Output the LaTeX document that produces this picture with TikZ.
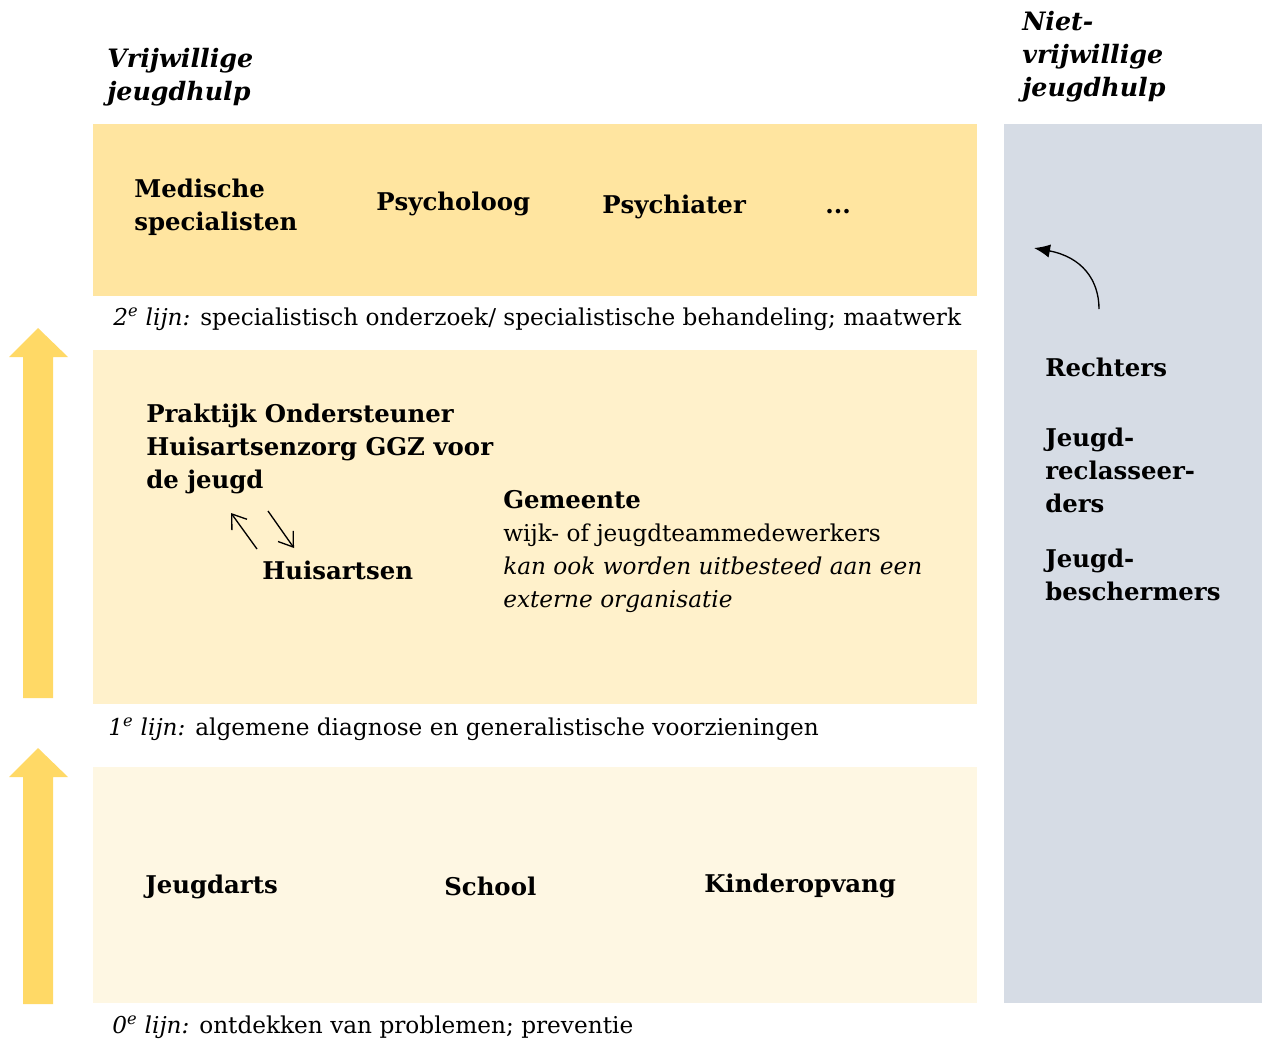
\documentclass[tikz,border=0pt]{standalone}
\usepackage{fontspec}
\setmainfont{DejaVu Serif}
\usetikzlibrary{arrows.meta}

\definecolor{lijntwee}{HTML}{FFE5A0}
\definecolor{lijneen}{HTML}{FFF1CB}
\definecolor{lijnnul}{HTML}{FEF7E3}
\definecolor{grijsblauw}{HTML}{D6DCE5}
\definecolor{pijlgeel}{HTML}{FFD966}

\newcommand\basis{\fontsize{17.4}{24.75}\selectfont}
\newcommand\vetletter{\fontsize{18.3}{24.75}\selectfont\bfseries}

\begin{document}
\begin{tikzpicture}[x=0.75pt, y=-0.75pt,
    tekst/.style={anchor=base west, inner sep=0pt, align=left, font=\basis},
    vet/.style={tekst, font=\vetletter},
    kop/.style={tekst, font=\fontsize{19}{24.75}\selectfont\bfseries\itshape},
    pijl/.style={line width=1pt, -{Straight Barb[length=10pt,width=14pt]}},
    boog/.style={line width=1pt, -{Latex[length=12pt,width=10pt]}}]
    \useasboundingbox (0,0) rectangle (1262,1040);

    % vlakken per lijn
    \fill[lijntwee] (93,124) rectangle (977,296);
    \fill[lijneen] (93,350) rectangle (977,704);
    \fill[lijnnul] (93,767) rectangle (977,1003);
    \fill[grijsblauw] (1004,124) rectangle (1262,1003);

    % gele pijlen links
    \foreach \punt/\voet in {328/698, 748/1004}
        \fill[pijlgeel] (23,\voet) -- (23,\punt+29) -- (9,\punt+29) -- (38,\punt)
            -- (68,\punt+29) -- (53,\punt+29) -- (53,\voet) -- cycle;

    % koppen (base = onderste regel)
    \node[kop] (vrij) at (107,100) {Vrijwillige\\jeugdhulp};
    \node[kop] (nvrij) at (1022,96) {Niet-\\vrijwillige\\jeugdhulp};

    % 2e lijn
    \node[vet] (medisch) at (134,230) {Medische\\specialisten};
    \node[vet] (psycholoog) at (376,210) {Psycholoog};
    \node[vet] (psychiater) at (602,213) {Psychiater};
    \node[vet] (overig) at (825,213) {...};
    \node[tekst] (lijn2) at (113,325) {\textit{2\textsuperscript{e} lijn:} specialistisch onderzoek/ specialistische behandeling; maatwerk};

    % 1e lijn
    \node[vet] (poh) at (146,488) {Praktijk Ondersteuner\\Huisartsenzorg GGZ voor\\de jeugd};
    \node[vet] (huisarts) at (262,579) {Huisartsen};
    \node[tekst] (gemeente) at (503,607) {{\vetletter Gemeente}\\wijk- of jeugdteammedewerkers\\\textit{kan ook worden uitbesteed aan een}\\\textit{externe organisatie}};
    \node[tekst] (lijn1) at (108,735) {\textit{1\textsuperscript{e} lijn:} algemene diagnose en generalistische voorzieningen};

    \coordinate (h1) at (257,549);
    \coordinate (p1) at (231,513);
    \coordinate (p2) at (268,511);
    \coordinate (h2) at (294,548);
    \draw[pijl] (h1) -- (p1);
    \draw[pijl] (p2) -- (h2);

    % 0e lijn
    \node[vet] (jeugdarts) at (145,893) {Jeugdarts};
    \node[vet] (school) at (444,895) {School};
    \node[vet] (opvang) at (704,892) {Kinderopvang};
    \node[tekst] (lijn0) at (112,1033) {\textit{0\textsuperscript{e} lijn:} ontdekken van problemen; preventie};

    % niet-vrijwillig
    \node[vet] (rechters) at (1045,376) {Rechters};
    \node[vet] (reclassering) at (1045,512) {Jeugd-\\reclasseer-\\ders};
    \node[vet] (bescherming) at (1045,600) {Jeugd-\\beschermers};

    \coordinate (b1) at (1099,309);
    \coordinate (b2) at (1034,248);
    \draw[boog] (b1) .. controls (1099,280) and (1082,257) .. (b2);
\end{tikzpicture}
\end{document}
